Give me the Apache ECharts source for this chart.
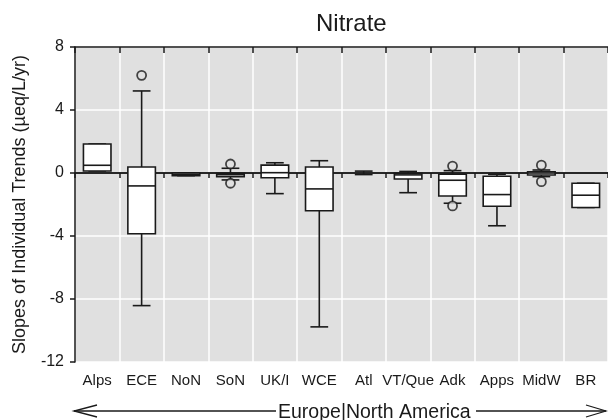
<!DOCTYPE html>
<html><head><meta charset="utf-8">
<script src="https://cdn.jsdelivr.net/npm/echarts@6/dist/echarts.min.js"></script>
<style>html,body{margin:0;padding:0;background:#fff}#c{width:608px;height:420px}</style>
</head><body><div id="c"></div>
<script>
var categories = ['Alps','ECE','NoN','SoN','UK/I','WCE','Atl','VT/Que','Adk','Apps','MidW','BR'];
var mins    = [0.13, -8.42, -0.17, -0.44, -1.31, -9.77, -0.10, -1.25, -1.92, -3.35, -0.23, -2.19];
var q1s     = [0.13, -3.86, -0.17, -0.23, -0.30, -2.40,  0.00, -0.38, -1.46, -2.11, -0.13, -2.19];
var medians = [0.49, -0.82, -0.08, -0.10,  0.02, -1.01,  0.00, -0.12, -0.46, -1.37,  0.00, -1.41];
var q3s     = [1.84,  0.38,  0.00, -0.02,  0.50,  0.38,  0.00, -0.02, -0.08, -0.21,  0.08, -0.65];
var maxs    = [1.84,  5.21,  0.00,  0.30,  0.65,  0.78,  0.12,  0.10,  0.15, -0.08,  0.19, -0.65];
var outlierCats = ['ECE','SoN','SoN','Adk','Adk','MidW','MidW'];
var outlierVals = [6.2, 0.57, -0.65, 0.44, -2.09, 0.50, -0.55];
var yTicks = [-12, -8, -4, 0, 4, 8];

var boxData = categories.map(function(c, i){ return [i, mins[i], q1s[i], medians[i], q3s[i], maxs[i]]; });
var outData = outlierCats.map(function(c, i){ return [c, outlierVals[i]]; });

var chart = echarts.init(document.getElementById('c'), null, {renderer:'canvas'});
var FONT = 'Liberation Sans, Arial, sans-serif';
var INK = '#1a1a1a';

function renderBox(params, api){
  var idx = api.value(0);
  var vMin = api.value(1), vQ1 = api.value(2), vMed = api.value(3), vQ3 = api.value(4), vMax = api.value(5);
  var x = api.coord([idx, 0])[0];
  var yMin = api.coord([idx, vMin])[1], yQ1 = api.coord([idx, vQ1])[1], yMed = api.coord([idx, vMed])[1];
  var yQ3 = api.coord([idx, vQ3])[1], yMax = api.coord([idx, vMax])[1];
  var band = api.size([1, 0])[0];
  var hb = band * 0.31, hc = band * 0.2;
  var st = {stroke: INK, lineWidth: 1.6, fill: null};
  var ch = [];
  ch.push({type:'line', shape:{x1:x, y1:yQ3, x2:x, y2:yMax}, style:st});
  ch.push({type:'line', shape:{x1:x, y1:yQ1, x2:x, y2:yMin}, style:st});
  ch.push({type:'line', shape:{x1:x-hc, y1:yMax, x2:x+hc, y2:yMax}, style:st});
  ch.push({type:'line', shape:{x1:x-hc, y1:yMin, x2:x+hc, y2:yMin}, style:st});
  if (vQ3 > vQ1) {
    ch.push({type:'rect', shape:{x:x-hb, y:yQ3, width:2*hb, height:yQ1-yQ3}, style:{fill:'#fff', stroke:INK, lineWidth:1.6}});
    ch.push({type:'line', shape:{x1:x-hb, y1:yMed, x2:x+hb, y2:yMed}, style:st});
  }
  return {type:'group', children: ch};
}

var option = {
  animation: false,
  title: {text:'Nitrate', left: 311, top: 7, textStyle:{fontFamily:FONT, fontSize:24, fontWeight:'normal', color:INK}},
  grid: {left: 75, top: 47, width: 540, height: 315, show: true, backgroundColor:'#e0e0e0', borderWidth: 0},
  xAxis: [{
    type:'category', data: categories, position:'bottom', boundaryGap: true,
    axisLine:{show:true, lineStyle:{color:INK, width:1.5}},
    axisTick:{show:true, inside:false, length:5, interval:0, lineStyle:{color:INK, width:1.5}},
    axisLabel:{fontFamily:FONT, fontSize:15, color:INK, margin:11, interval:0},
    splitLine:{show:true, interval:0, lineStyle:{color:'#ffffff', width:1.5}}
  },{
    type:'category', data: categories, position:'top', boundaryGap: true,
    axisLine:{show:true, lineStyle:{color:INK, width:1.5}},
    axisTick:{show:true, inside:true, length:6, interval:0, lineStyle:{color:INK, width:1.5}},
    axisLabel:{show:false}, splitLine:{show:false}
  }],
  yAxis: {
    type:'value', min: yTicks[0], max: yTicks[yTicks.length-1], interval: 4,
    name:'Slopes of Individual Trends (\u00b5eq/L/yr)', nameLocation:'middle', nameRotate:90, nameGap: 46,
    nameTextStyle:{fontFamily:FONT, fontSize:18, color:INK},
    axisLine:{show:true, lineStyle:{color:INK, width:1.5}},
    axisTick:{show:true, inside:false, length:5, lineStyle:{color:INK, width:1.5}},
    axisLabel:{fontFamily:FONT, fontSize:16, color:INK, margin:11},
    splitLine:{show:true, lineStyle:{color:'#ffffff', width:1.5}}
  },
  series: [{
    type:'custom', renderItem: renderBox, data: boxData, encode:{x:0, y:[1,2,3,4,5]}, z: 3,
    markLine:{silent:true, symbol:['none','none'], label:{show:false}, lineStyle:{color:INK, width:1.6, type:'solid'}, data:[{yAxis:0}], z: 2}
  },{
    type:'scatter', data: outData, symbol:'circle', symbolSize: 9,
    itemStyle:{color:'#e0e0e0', borderColor:INK, borderWidth:1.8}, z: 4
  }],
  graphic: [
    {type:'text', left: 278, top: 403, style:{text:'Europe|North America', font:'19.5px ' + FONT, fill:INK}},
    {type:'polyline', shape:{points:[[74,411],[276,411]]}, style:{stroke:INK, lineWidth:1.3, fill:null}},
    {type:'polyline', shape:{points:[[97,405],[74,411],[97,417]]}, style:{stroke:INK, lineWidth:1.3, fill:null}},
    {type:'polyline', shape:{points:[[476,411],[606,411]]}, style:{stroke:INK, lineWidth:1.3, fill:null}},
    {type:'polyline', shape:{points:[[586,405],[606,411],[586,417]]}, style:{stroke:INK, lineWidth:1.3, fill:null}}
  ]
};
chart.setOption(option);
</script></body></html>
